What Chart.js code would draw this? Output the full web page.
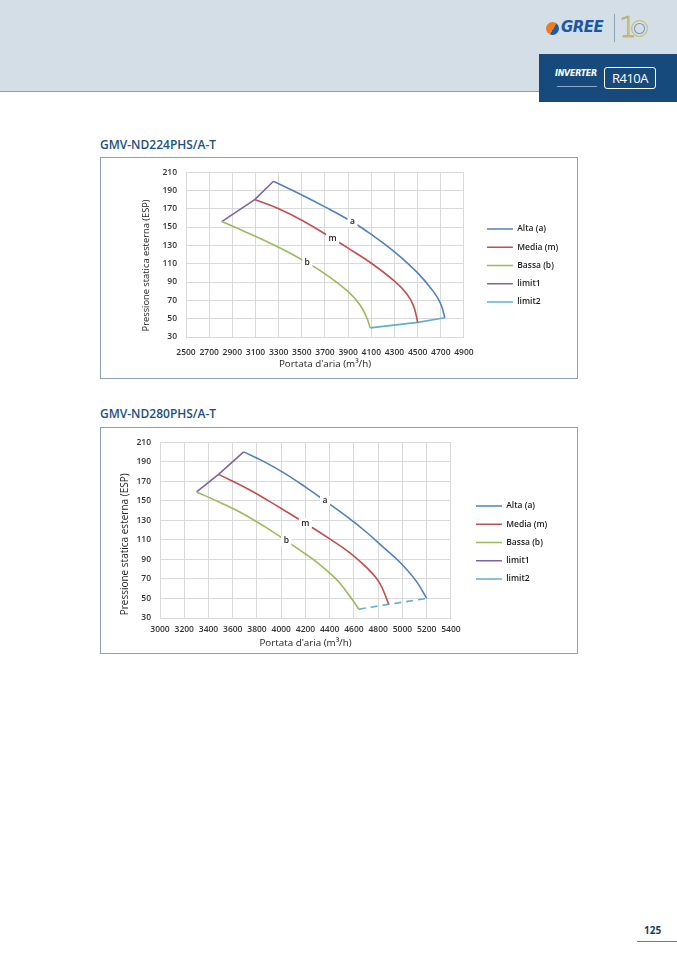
<!DOCTYPE html>
<html lang="it">
<head>
    <title>GMV-ND PHS/A-T - Pressione statica</title>
    <meta charset="UTF-8">
    <script src="https://cdn.jsdelivr.net/npm/chart.js"></script>
    <style>
        body {
            margin: 0;
            padding: 0;
            width: 677px;
            height: 958px;
            position: relative;
            background: white;
            font-family: "Open Sans", Arial, sans-serif;
            overflow: hidden;
        }

        header {
            position: absolute;
            left: 0; top: 0;
            width: 677px; height: 91px;
            background-color: #d3dee7;
            border-bottom: 1px solid #8aa2b9;
        }

        .gree-icon {
            position: absolute;
            left: 546px; top: 22px;
            width: 13px; height: 13px;
            border-radius: 50%;
            background: linear-gradient(120deg, #f07b1d 0 55%, #1d5aa8 55% 100%);
        }
        .gree-text {
            position: absolute;
            left: 561px; top: 18px;
            font: italic 900 15px "DejaVu Sans", sans-serif;
            color: #1d56a3;
            letter-spacing: -0.5px;
        }
        .divider {
            position: absolute;
            left: 614px; top: 14px;
            width: 1px; height: 28px;
            background: #8aa0b8;
        }
        .ten-one {
            position: absolute;
            left: 619px; top: 11px;
            font: 200 28px "DejaVu Sans", sans-serif;
            color: #d9d7b8;
            -webkit-text-stroke: 0.6px #a79c55;
        }
        .ten-zero {
            position: absolute;
            left: 631px; top: 20px;
            width: 15px; height: 15px;
            border-radius: 50%;
            border: 1.5px solid #c9bd6a;
            box-shadow: inset 0 0 0 2px #d3dee7, inset 0 0 0 3px #7d96b0;
        }
        .darkbox {
            position: absolute;
            left: 539px; top: 54px;
            width: 138px; height: 48px;
            background: #174a7c;
        }
        .inverter {
            position: absolute;
            left: 16px; top: 15px;
            font: italic 700 8px "DejaVu Sans", sans-serif;
            color: white;
            letter-spacing: -0.3px;
        }
        .inverter-sub {
            position: absolute;
            left: 18px; top: 32px;
            width: 40px; height: 1px;
            background: #8fa8c4;
        }
        .r410 {
            position: absolute;
            left: 65px; top: 13px;
            width: 50px; height: 20px;
            border: 1px solid white;
            border-radius: 3px;
            font: 500 13px "Open Sans", sans-serif;
            color: white;
            text-align: center;
            line-height: 20px;
            letter-spacing: -0.5px;
        }

        .model {
            position: absolute;
            left: 100px;
            margin: 0;
            font: 600 12px "Open Sans", sans-serif;
            color: #1b4f7e;
        }

        .box {
            position: absolute;
            left: 100px;
            width: 476px;
            border: 1px solid #8aa2b9;
        }
        .box canvas {
            display: block;
        }

        .pagenum {
            position: absolute;
            left: 644px; top: 923px;
            font: 700 10px "Open Sans", sans-serif;
            color: #1d3c62;
        }
        .pageline {
            position: absolute;
            left: 637px; top: 941px;
            width: 40px; height: 1px;
            background: #5f7fa3;
        }
    </style>
</head>
<body>
    <header>
        <div class="gree-icon"></div>
        <div class="gree-text">GREE</div>
        <div class="divider"></div>
        <div class="ten-one">1</div>
        <div class="ten-zero"></div>
    </header>
    <div class="darkbox">
        <div class="inverter">INVERTER</div>
        <div class="inverter-sub"></div>
        <div class="r410">R410A</div>
    </div>

    <h2 class="model" style="top: 136px;">GMV-ND224PHS/A-T</h2>
    <div class="box" style="top: 157px; height: 220px;">
        <canvas id="chart1" width="476" height="220"></canvas>
    </div>

    <h2 class="model" style="top: 405px;">GMV-ND280PHS/A-T</h2>
    <div class="box" style="top: 427px; height: 225px;">
        <canvas id="chart2" width="476" height="225"></canvas>
    </div>

    <div class="pagenum">125</div>
    <div class="pageline"></div>

    <script>
        // nomi delle serie
        var seriesNames = ["Alta (a)", "Media (m)", "Bassa (b)", "limit1", "limit2"];
        var curveTags = ["a", "m", "b"];

        // GMV-ND224PHS/A-T  (portata m3/h, pressione)
        var altaX1 = [3255, 3500, 3700, 3937, 4100, 4300, 4500, 4640, 4700, 4735];
        var altaY1 = [200, 185, 172, 155.5, 142, 123, 100, 79, 66, 51];
        var mediaX1 = [3093, 3300, 3500, 3766, 3900, 4100, 4300, 4407, 4465, 4500];
        var mediaY1 = [180, 170, 157.5, 137.5, 127, 110.5, 91, 77, 64, 46];
        var bassaX1 = [2809, 3000, 3200, 3400, 3547, 3700, 3900, 4003, 4061, 4090];
        var bassaY1 = [156, 145.5, 134, 121.5, 111, 99, 79.5, 65, 51, 40];
        var limit1X1 = [2809, 3093, 3255];
        var limit1Y1 = [156, 180, 200];
        var limit2X1 = [4090, 4500, 4735];
        var limit2Y1 = [40, 46, 51];
        var tagX1 = [3937, 3766, 3547];
        var tagY1 = [155.5, 137.5, 111];

        // GMV-ND280PHS/A-T
        var altaX2 = [3690, 3850, 4015, 4200, 4361, 4550, 4701, 4850, 4975, 5112, 5200];
        var altaY2 = [200, 190.5, 179, 164, 150, 133, 118, 101.5, 87.5, 68, 50];
        var mediaX2 = [3483, 3741, 4000, 4199, 4400, 4564, 4701, 4811, 4887];
        var mediaY2 = [177, 161, 142, 127, 111, 97, 82, 66, 44];
        var bassaX2 = [3302, 3500, 3658, 3850, 4042, 4200, 4290, 4400, 4481, 4591, 4640];
        var bassaY2 = [159, 148, 138.5, 124.5, 109, 95.5, 87.5, 76, 66, 48, 39];
        var limit1X2 = [3302, 3483, 3690];
        var limit1Y2 = [159, 177, 200];
        var limit2X2 = [4640, 4887, 5200];
        var limit2Y2 = [39, 44, 50];
        var tagX2 = [4361, 4199, 4042];
        var tagY2 = [150, 127, 109];

        // assi
        var xMin1 = 2500, xMax1 = 4900;
        var xMin2 = 3000, xMax2 = 5400;
        var yMin = 30, yMax = 210;

        var colors = ["#4f81bd", "#c0504d", "#9bbb59", "#8064a2", "#5fb0c8"];

        function pts(xs, ys) {
            return xs.map(function (x, i) { return { x: x, y: ys[i] }; });
        }

        // scrive a / m / b sopra le curve
        var curveTagPlugin = {
            id: 'curveTags',
            afterDatasetsDraw: function (chart, args, opts) {
                var ctx = chart.ctx;
                var sx = chart.scales.x, sy = chart.scales.y;
                ctx.save();
                ctx.font = '600 8.5px "Open Sans"';
                ctx.textAlign = 'center';
                ctx.textBaseline = 'middle';
                for (var i = 0; i < curveTags.length; i++) {
                    var px = sx.getPixelForValue(opts.xs[i]);
                    var py = sy.getPixelForValue(opts.ys[i]);
                    var w = ctx.measureText(curveTags[i]).width + 5;
                    ctx.fillStyle = '#fff';
                    ctx.fillRect(px - w / 2, py - 5, w, 10);
                    ctx.fillStyle = '#222';
                    ctx.fillText(curveTags[i], px, py);
                }
                ctx.restore();
            }
        };

        function makeChart(id, d, lay) {
            var sets = [
                [d.altaX, d.altaY], [d.mediaX, d.mediaY], [d.bassaX, d.bassaY],
                [d.l1X, d.l1Y], [d.l2X, d.l2Y]
            ].map(function (s, i) {
                return {
                    label: seriesNames[i],
                    data: pts(s[0], s[1]),
                    showLine: true,
                    borderColor: colors[i],
                    backgroundColor: colors[i],
                    borderWidth: 1.6,
                    pointRadius: 0,
                    tension: i < 3 ? 0.4 : 0,
                    borderDash: (i === 4 && d.dashed) ? [7, 5] : []
                };
            });

            var tickFont = { family: 'Open Sans', size: 8.5, weight: '600' };
            var gridColor = '#d9d9d9';

            return new Chart(document.getElementById(id), {
                type: 'scatter',
                data: { datasets: sets },
                plugins: [curveTagPlugin],
                options: {
                    responsive: false,
                    animation: false,
                    layout: { padding: lay.padding },
                    plugins: {
                        tooltip: { enabled: false },
                        curveTags: { xs: d.tagX, ys: d.tagY },
                        legend: {
                            position: 'right',
                            maxWidth: 120,
                            labels: {
                                usePointStyle: true,
                                pointStyle: 'line',
                                pointStyleWidth: 26,
                                padding: 9.75,
                                color: '#222',
                                font: { family: 'Open Sans', size: 8.5, weight: '600' }
                            }
                        }
                    },
                    scales: {
                        x: {
                            type: 'linear',
                            min: d.xMin, max: d.xMax,
                            grid: { color: gridColor, drawTicks: false },
                            border: { color: gridColor },
                            ticks: {
                                stepSize: 200, color: '#333', font: tickFont,
                                padding: lay.xTickPad, maxRotation: 0, autoSkip: false,
                                callback: function (v) { return v; }
                            },
                            title: {
                                display: true,
                                text: "Portata d'aria (m³/h)",
                                color: '#222',
                                font: { family: 'Open Sans', size: 9.8, weight: '500' },
                                padding: { top: 0, bottom: lay.xTitlePad }
                            },
                            afterFit: function (s) { s.height = lay.xHeight; }
                        },
                        y: {
                            min: yMin, max: yMax,
                            grid: { color: gridColor, drawTicks: false },
                            border: { color: gridColor },
                            ticks: { stepSize: 20, color: '#333', font: tickFont, padding: 9 },
                            title: {
                                display: true,
                                text: lay.yTitle,
                                color: '#222',
                                font: { family: 'Open Sans', size: lay.yTitleSize, weight: '500' },
                                padding: { top: lay.yTitlePad, bottom: 0 }
                            },
                            afterFit: function (s) { s.width = lay.yWidth; }
                        },
                        sp: {
                            type: 'linear',
                            position: 'right',
                            grid: { display: false },
                            border: { display: false },
                            ticks: { display: false },
                            afterFit: function (s) { s.width = lay.gap; }
                        }
                    }
                }
            });
        }

        // il titolo dell'asse y e' un po' piu' in basso del centro del grafico
        var yTitleText = 'Pressione statica esterna (ESP)';

        makeChart('chart1', {
            altaX: altaX1, altaY: altaY1, mediaX: mediaX1, mediaY: mediaY1,
            bassaX: bassaX1, bassaY: bassaY1, l1X: limit1X1, l1Y: limit1Y1,
            l2X: limit2X1, l2Y: limit2Y1, tagX: tagX1, tagY: tagY1,
            xMin: xMin1, xMax: xMax1, dashed: false
        }, {
            padding: { left: 35, top: 8, right: 8.75, bottom: 13 },
            xHeight: 28, xTickPad: 10, xTitlePad: -5, gap: 13.25,
            yWidth: 50, yTitlePad: 5, yTitleSize: 9.3,
            yTitle: yTitleText + '\u00a0'.repeat(9)
        });

        makeChart('chart2', {
            altaX: altaX2, altaY: altaY2, mediaX: mediaX2, mediaY: mediaY2,
            bassaX: bassaX2, bassaY: bassaY2, l1X: limit1X2, l1Y: limit1Y2,
            l2X: limit2X2, l2Y: limit2Y2, tagX: tagX2, tagY: tagY2,
            xMin: xMin2, xMax: xMax2, dashed: true
        }, {
            padding: { left: 14, top: 8, right: 19.75, bottom: 4 },
            xHeight: 31, xTickPad: 6, xTitlePad: 0, gap: 15.25,
            yWidth: 45, yTitlePad: 4, yTitleSize: 10,
            yTitle: yTitleText + '\u00a0'.repeat(11)
        });
    </script>
</body>
</html>
